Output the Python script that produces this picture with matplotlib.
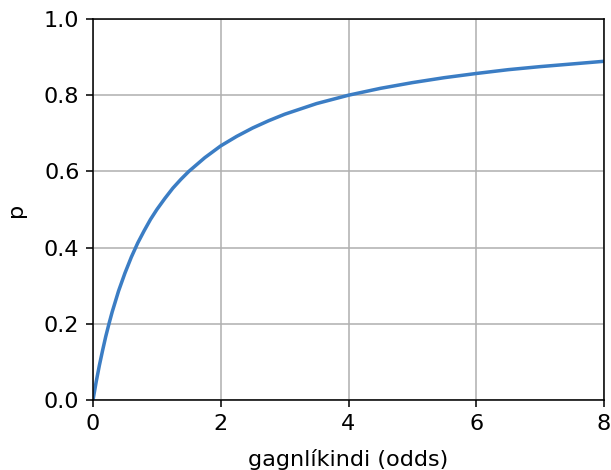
import matplotlib
matplotlib.use("Agg")
import matplotlib.pyplot as plt

# values
odds = [0, 0.025, 0.05, 0.1, 0.15, 0.2, 0.25, 0.3, 0.4, 0.5, 0.6, 0.7, 0.8,
        0.9, 1.0, 1.125, 1.25, 1.375, 1.5, 1.75, 2.0, 2.25, 2.5, 2.75, 3.0,
        3.5, 4.0, 4.5, 5.0, 5.5, 6.0, 6.5, 7.0, 7.5, 8.0]
p = [0, 0.024, 0.048, 0.091, 0.13, 0.167, 0.2, 0.231, 0.286, 0.333, 0.375,
     0.412, 0.444, 0.474, 0.5, 0.529, 0.556, 0.579, 0.6, 0.636, 0.667, 0.692,
     0.714, 0.733, 0.75, 0.778, 0.8, 0.818, 0.833, 0.846, 0.857, 0.867,
     0.875, 0.882, 0.889]

xticks = [0, 2, 4, 6, 8]
yticks = [0.0, 0.2, 0.4, 0.6, 0.8, 1.0]

plt.rcParams["font.size"] = 11.5

fig = plt.figure(figsize=(611 / 140, 470 / 140), dpi=140)
ax = fig.add_axes([93 / 611, 1 - 400 / 470, 511 / 611, 381 / 470])

ax.plot(odds, p, color="#3b7dc4", linewidth=1.8)
ax.set_xlim(0, 8)
ax.set_ylim(0, 1)
ax.set_xticks(xticks)
ax.set_yticks(yticks)
ax.grid(True)
ax.set_xlabel("gagnlíkindi (odds)", labelpad=8)
ax.set_ylabel("p", labelpad=9)

fig.savefig("out.png", dpi=140)
